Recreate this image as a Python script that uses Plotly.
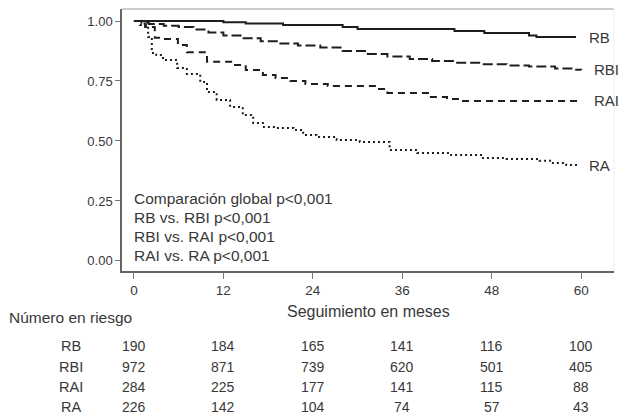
import plotly.graph_objects as go

# ---- data ----
rb_t = [0, 12, 15, 20, 28, 30, 43, 47, 53, 54, 59.3]
rb_s = [1.0, 0.995, 0.99, 0.983, 0.975, 0.967, 0.958, 0.95, 0.94, 0.933, 0.933]

rbi_t = [0, 1, 2, 4, 6, 8, 10, 12, 14.5, 17, 19.5, 22, 25, 28, 31, 34, 37, 40, 43, 46.5, 50, 53, 56.5, 59, 60]
rbi_s = [1.0, 0.993, 0.987, 0.98, 0.975, 0.965, 0.952, 0.94, 0.928, 0.916, 0.906, 0.898, 0.89, 0.875, 0.862,
         0.852, 0.842, 0.833, 0.826, 0.82, 0.815, 0.81, 0.802, 0.797, 0.796]

rai_t = [0, 0.8, 1.5, 2.8, 3.9, 5.9, 7.1, 9.8, 13.3, 15, 17.3, 19, 21, 23, 26, 32.6, 34, 39.7, 42, 44, 60]
rai_s = [1.0, 0.99, 0.975, 0.93, 0.925, 0.9, 0.87, 0.83, 0.817, 0.796, 0.775, 0.7625, 0.75, 0.7375, 0.729,
         0.717, 0.70, 0.683, 0.675, 0.667, 0.667]

ra_t = [0, 0.8, 1.9, 2.4, 3, 3.9, 5.8, 7.1, 8.9, 9.8, 11.1, 12.9, 14.6, 16, 17.3, 19, 21.4, 22.7, 24.5, 27.2,
        30.3, 34.3, 38, 42.4, 46.8, 50, 54.4, 56, 58, 59.3]
ra_s = [1.0, 0.983, 0.933, 0.867, 0.858, 0.8375, 0.804, 0.779, 0.746, 0.704, 0.671, 0.642, 0.608, 0.575, 0.558,
        0.554, 0.546, 0.525, 0.517, 0.504, 0.496, 0.4625, 0.45, 0.442, 0.429, 0.425, 0.417, 0.408, 0.40, 0.396]

groups = ["RB", "RBI", "RAI", "RA"]
x_ticks = [0, 12, 24, 36, 48, 60]
y_ticks = [0.0, 0.25, 0.5, 0.75, 1.0]
y_tick_labels = ["0.00", "0.25", "0.50", "0.75", "1.00"]

at_risk = {
    "RB": [190, 184, 165, 141, 116, 100],
    "RBI": [972, 871, 739, 620, 501, 405],
    "RAI": [284, 225, 177, 141, 115, 88],
    "RA": [226, 142, 104, 74, 57, 43],
}

stats_lines = ["Comparación global p<0,001", "RB vs. RBI p<0,001", "RBI vs. RAI p<0,001", "RAI vs. RA p<0,001"]

FONT = "Liberation Sans, Arial, sans-serif"
INK = "#1e1e1e"
TXT = "#383838"

fig = go.Figure()
series = [
    ("RB", rb_t, rb_s, "solid"),
    ("RBI", rbi_t, rbi_s, "10px,4px"),
    ("RAI", rai_t, rai_s, "7px,5px"),
    ("RA", ra_t, ra_s, "2px,3px"),
]
for name, t, s, dash in series:
    fig.add_trace(go.Scatter(x=t, y=s, mode="lines", name=name, line_shape="hv",
                             line=dict(color=INK, width=2, dash=dash), showlegend=False))
    fig.add_annotation(x=t[-1], y=s[-1], xref="x", yref="y", text=name, showarrow=False,
                       xanchor="left", yanchor="middle", xshift=11,
                       font=dict(family=FONT, size=15, color=TXT))

# stats text
for i, line in enumerate(stats_lines):
    fig.add_annotation(x=0, y=0.26 - i * 0.079, xref="x", yref="y", text=line, showarrow=False,
                       xanchor="left", yanchor="middle", xshift=-2,
                       font=dict(family=FONT, size=15.5, color=TXT))

# x axis title
fig.add_annotation(x=0.5, y=-0.155, xref="paper", yref="paper", text="Seguimiento en meses", showarrow=False,
                   xanchor="center", yanchor="middle", font=dict(family=FONT, size=16, color=TXT))

# number at risk table
fig.add_annotation(x=-0.234, y=-0.177, xref="paper", yref="paper", text="Número en riesgo", showarrow=False,
                   xanchor="left", yanchor="middle", font=dict(family=FONT, size=15.5, color=TXT))
row_y = [-0.286, -0.366, -0.443, -0.519]
for gi, g in enumerate(groups):
    fig.add_annotation(x=-0.104, y=row_y[gi], xref="paper", yref="paper", text=g, showarrow=False,
                       xanchor="center", yanchor="middle", font=dict(family=FONT, size=14.5, color=TXT))
    for xi, v in zip(x_ticks, at_risk[g]):
        fig.add_annotation(x=xi, y=row_y[gi], xref="x", yref="paper", text=str(v), showarrow=False,
                           xanchor="center", yanchor="middle", font=dict(family=FONT, size=14, color=TXT))

# frame top / right
fig.add_shape(type="line", xref="paper", yref="paper", x0=0, x1=1, y0=1, y1=1,
              line=dict(color="#bdbdbd", width=1.5))
fig.add_shape(type="line", xref="paper", yref="paper", x0=1, x1=1, y0=0, y1=1,
              line=dict(color="#efefef", width=1))

fig.update_xaxes(range=[-1.6, 64.4], tickvals=x_ticks, ticks="outside", ticklen=6, tickcolor="#777",
                 showline=True, linecolor="#666", linewidth=1.5, showgrid=False, zeroline=False,
                 tickfont=dict(family=FONT, size=13.5, color=TXT))
fig.update_yaxes(range=[-0.042, 1.05], tickvals=y_ticks, ticktext=y_tick_labels, ticks="outside", ticklen=5,
                 tickcolor="#777", showline=True, linecolor="#666", linewidth=1.5, showgrid=False,
                 zeroline=False, tickfont=dict(family=FONT, size=13, color=TXT))

fig.update_layout(width=623, height=418, margin=dict(l=122, r=9, t=9, b=147),
                  plot_bgcolor="white", paper_bgcolor="white")

fig.write_html("out.html")
